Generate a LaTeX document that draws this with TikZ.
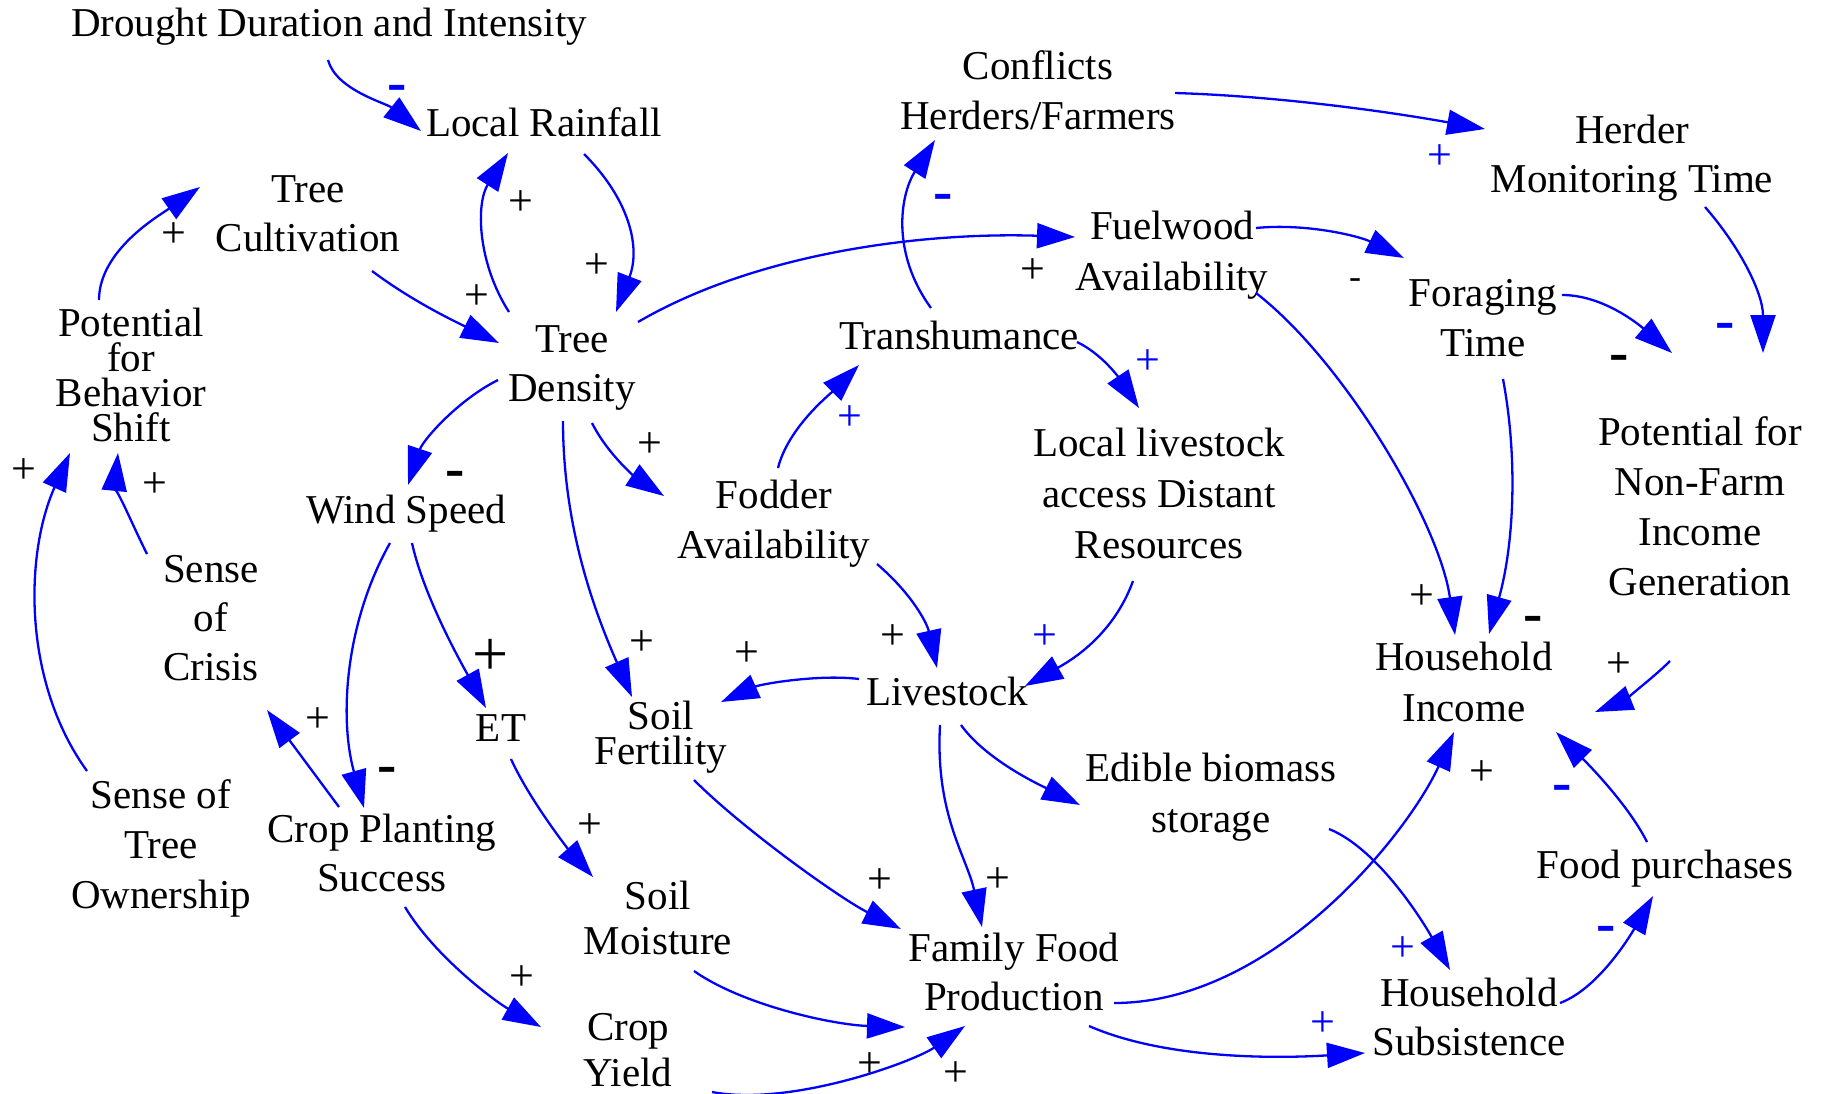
\documentclass[tikz,border=0pt]{standalone}
\usepackage{fontspec}
\setmainfont{Liberation Serif}
\usetikzlibrary{arrows.meta}
\definecolor{linkblue}{RGB}{0,0,255}
\tikzset{
  var/.style={align=center, inner sep=0pt, font=\fontsize{41}{49}\selectfont},
  lead/.style={font=\fontsize{41}{#1}\selectfont},
  link/.style={draw=linkblue, line width=2.3pt, -{Triangle[length=38pt,width=25pt]}},
  plusmark/.style={font=\fontsize{44}{44}\selectfont, inner sep=0pt},
  plusblue/.style={plusmark, text=linkblue},
  plusbig/.style={font=\fontsize{64}{64}\selectfont, inner sep=0pt},
  minusmark/.style={font=\fontsize{58}{58}\selectfont\bfseries, inner sep=0pt, yshift=-5pt},
  minusblue/.style={minusmark, text=linkblue},
  minusthin/.style={font=\fontsize{36}{36}\selectfont, inner sep=0pt, yshift=-3pt}
}
\begin{document}
\begin{tikzpicture}[x=1pt,y=-1pt]
\useasboundingbox (0,0) rectangle (1828,1093);
\fill[white] (0,0) rectangle (1828,1093);

% variables
\node[var] (drought) at (329,27) {Drought Duration and Intensity};
\node[var] (lr) at (544,122) {Local Rainfall};
\node[var] (tc) at (308,214) {Tree\\Cultivation};
\node[var, lead=35] (pbs) at (131,375) {Potential\\for\\Behavior\\Shift};
\node[var] (td) at (572,368) {Tree\\Density};
\node[var] (ws) at (406,514) {Wind Speed};
\node[var] (soc) at (211,618) {Sense\\of\\Crisis};
\node[var, lead=50] (sto) at (161,848) {Sense of\\Tree\\Ownership};
\node[var] (cps) at (382,853) {Crop Planting\\Success};
\node[var] (et) at (501,728) {ET};
\node[var, lead=35] (sf) at (661,737) {Soil\\Fertility};
\node[var, lead=45] (sm) at (658,918) {Soil\\Moisture};
\node[var, lead=46] (cy) at (628,1050) {Crop\\Yield};
\node[var, lead=50] (fa) at (774,524) {Fodder\\Availability};
\node[var] (tr) at (959,335) {Transhumance};
\node[var, lead=50] (conf) at (1038,90) {Conflicts\\Herders/Farmers};
\node[var, lead=51] (fw) at (1172,255) {Fuelwood\\Availability};
\node[var, lead=51] (lla) at (1159,493) {Local livestock\\access Distant\\Resources};
\node[var] (ls) at (947,691) {Livestock};
\node[var, lead=51] (eb) at (1211,797) {Edible biomass\\storage};
\node[var] (ffp) at (1014,972) {Family Food\\Production};
\node[var] (hmt) at (1632,158) {Herder\\Monitoring Time};
\node[var, lead=50] (ft) at (1483,318) {Foraging\\Time};
\node[var, lead=50] (pnf) at (1700,506) {Potential for\\Non-Farm\\Income\\Generation};
\node[var, lead=51] (hi) at (1464,682) {Household\\Income};
\node[var] (fp) at (1665,869) {Food purchases};
\node[var] (hs) at (1469,1017) {Household\\Subsistence};

% causal links
\draw[link] ([shift={(-1,33)}]drought.center) .. controls +(8,30) and +(-35,-28) .. ([shift={(-123,9)}]lr.center);
\draw[link] ([shift={(-63,-56)}]td.center) .. controls +(-32,-50) and +(-32,50) .. ([shift={(-36,31)}]lr.center);
\draw[link] ([shift={(40,32)}]lr.center) .. controls +(45,45) and +(25,-65) .. ([shift={(44,-56)}]td.center);
\draw[link] ([shift={(64,57)}]tc.center) .. controls +(40,30) and +(-45,-22) .. ([shift={(-73,-25)}]td.center);
\draw[link] ([shift={(-32,-75)}]pbs.center) .. controls +(0,-50) and +(-40,28) .. ([shift={(-108,-27)}]tc.center);
\draw[link] ([shift={(66,-46)}]td.center) .. controls +(120,-70) and +(-150,-5) .. ([shift={(-97,-18)}]fw.center);
\draw[link] ([shift={(-28,-27)}]tr.center) .. controls +(-40,-55) and +(-35,55) .. ([shift={(-103,50)}]conf.center);
\draw[link] ([shift={(137,3)}]conf.center) .. controls +(100,3) and +(-100,-18) .. ([shift={(-147,-29)}]hmt.center);
\draw[link] ([shift={(84,-27)}]fw.center) .. controls +(50,-5) and +(-45,-22) .. ([shift={(-79,-60)}]ft.center);
\draw[link] ([shift={(84,38)}]fw.center) .. controls +(90,70) and +(-15,-110) .. ([shift={(-9,-47)}]hi.center);
\draw[link] ([shift={(79,-23)}]ft.center) .. controls +(40,0) and +(-35,-30) .. ([shift={(-28,-153)}]pnf.center);
\draw[link] ([shift={(73,49)}]hmt.center) .. controls +(35,40) and +(0,-60) .. ([shift={(63,-153)}]pnf.center);
\draw[link] ([shift={(20,61)}]ft.center) .. controls +(15,80) and +(25,-90) .. ([shift={(25,-48)}]hi.center);
\draw[link] ([shift={(118,7)}]tr.center) .. controls +(25,12) and +(-20,-30) .. ([shift={(-20,-85)}]lla.center);
\draw[link] ([shift={(4,-56)}]fa.center) .. controls +(10,-40) and +(-30,30) .. ([shift={(-100,30)}]tr.center);
\draw[link] ([shift={(20,55)}]td.center) .. controls +(15,30) and +(-30,-20) .. ([shift={(-110,-28)}]fa.center);
\draw[link] ([shift={(-74,12)}]td.center) .. controls +(-40,20) and +(15,-45) .. ([shift={(2,-29)}]ws.center);
\draw[link] ([shift={(-9,53)}]td.center) .. controls +(0,110) and +(-35,-80) .. ([shift={(-29,-40)}]sf.center);
\draw[link] ([shift={(103,40)}]fa.center) .. controls +(35,30) and +(-10,-45) .. ([shift={(-10,-23)}]ls.center);
\draw[link] ([shift={(-26,88)}]lla.center) .. controls +(-20,55) and +(45,-25) .. ([shift={(78,-5)}]ls.center);
\draw[link] ([shift={(-88,-12)}]ls.center) .. controls +(-40,-5) and +(40,-18) .. ([shift={(60,-35)}]sf.center);
\draw[link] ([shift={(14,34)}]ls.center) .. controls +(25,35) and +(-40,-20) .. ([shift={(-131,8)}]eb.center);
\draw[link] ([shift={(-7,34)}]ls.center) .. controls +(-5,90) and +(-15,-70) .. ([shift={(-32,-45)}]ffp.center);
\draw[link] ([shift={(33,43)}]sf.center) .. controls +(50,50) and +(-60,-30) .. ([shift={(-113,-43)}]ffp.center);
\draw[link] ([shift={(36,53)}]sm.center) .. controls +(50,35) and +(-70,-2) .. ([shift={(-109,55)}]ffp.center);
\draw[link] ([shift={(84,42)}]cy.center) .. controls +(80,15) and +(-50,35) .. ([shift={(-49,54)}]ffp.center);
\draw[link] ([shift={(-16,29)}]ws.center) .. controls +(-45,80) and +(-25,-90) .. ([shift={(-18,-45)}]cps.center);
\draw[link] ([shift={(6,29)}]ws.center) .. controls +(12,55) and +(-22,-40) .. ([shift={(-15,-20)}]et.center);
\draw[link] ([shift={(10,31)}]et.center) .. controls +(18,40) and +(-25,-28) .. ([shift={(-65,-41)}]sm.center);
\draw[link] ([shift={(-43,-46)}]cps.center) -- ([shift={(56,92)}]soc.center);
\draw[link] ([shift={(23,54)}]cps.center) .. controls +(30,50) and +(-45,-25) .. ([shift={(-87,-23)}]cy.center);
\draw[link] ([shift={(-64,-64)}]soc.center) .. controls +(-15,-30) and +(-3,30) .. ([shift={(-13,78)}]pbs.center);
\draw[link] ([shift={(-74,-77)}]sto.center) .. controls +(-65,-90) and +(-45,100) .. ([shift={(-61,78)}]pbs.center);
\draw[link] ([shift={(100,31)}]ffp.center) .. controls +(160,0) and +(-45,100) .. ([shift={(-10,50)}]hi.center);
\draw[link] ([shift={(75,54)}]ffp.center) .. controls +(80,35) and +(-80,5) .. ([shift={(-104,36)}]hs.center);
\draw[link] ([shift={(118,32)}]eb.center) .. controls +(50,20) and +(-25,-45) .. ([shift={(-19,-47)}]hs.center);
\draw[link] ([shift={(91,-14)}]hs.center) .. controls +(40,-15) and +(-20,35) .. ([shift={(-12,27)}]fp.center);
\draw[link] ([shift={(-18,-27)}]fp.center) .. controls +(-20,-40) and +(25,25) .. ([shift={(92,50)}]hi.center);
\draw[link] ([shift={(-30,155)}]pnf.center) .. controls +(-20,20) and +(25,-10) .. ([shift={(131,30)}]hi.center);

% polarity marks
\node[minusblue] (m1) at (397,88) {-};
\node[plusmark] (m2) at (521,203) {+};
\node[plusmark] (m3) at (597,266) {+};
\node[plusmark] (m4) at (477,297) {+};
\node[plusmark] (m5) at (174,235) {+};
\node[plusmark] (m6) at (1033,271) {+};
\node[minusblue] (m7) at (943,197) {-};
\node[plusblue] (m8) at (1440,157) {+};
\node[minusthin] (m9) at (1355,281) {-};
\node[plusmark] (m10) at (1422,597) {+};
\node[minusmark] (m11) at (1619,358) {-};
\node[minusblue] (m12) at (1725,326) {-};
\node[minusmark] (m13) at (1533,619) {-};
\node[plusblue] (m14) at (1148,362) {+};
\node[plusblue] (m15) at (850,418) {+};
\node[plusmark] (m16) at (650,445) {+};
\node[minusmark] (m17) at (455,474) {-};
\node[plusmark] (m18) at (642,643) {+};
\node[plusmark] (m19) at (893,637) {+};
\node[plusblue] (m20) at (1045,637) {+};
\node[plusmark] (m21) at (747,654) {+};
\node[plusmark] (m23) at (998,880) {+};
\node[plusmark] (m24) at (880,881) {+};
\node[plusmark] (m25) at (870,1065) {+};
\node[plusmark] (m26) at (956,1074) {+};
\node[minusmark] (m27) at (387,770) {-};
\node[plusbig] (m28) at (491,657) {+};
\node[plusmark] (m29) at (590,826) {+};
\node[plusmark] (m30) at (318,720) {+};
\node[plusmark] (m31) at (522,978) {+};
\node[plusmark] (m32) at (155,485) {+};
\node[plusmark] (m33) at (24,471) {+};
\node[plusmark] (m34) at (1482,773) {+};
\node[plusblue] (m35) at (1323,1024) {+};
\node[plusblue] (m36) at (1403,949) {+};
\node[minusblue] (m37) at (1606,929) {-};
\node[minusblue] (m38) at (1562,788) {-};
\node[plusmark] (m39) at (1619,665) {+};
\end{tikzpicture}
\end{document}
